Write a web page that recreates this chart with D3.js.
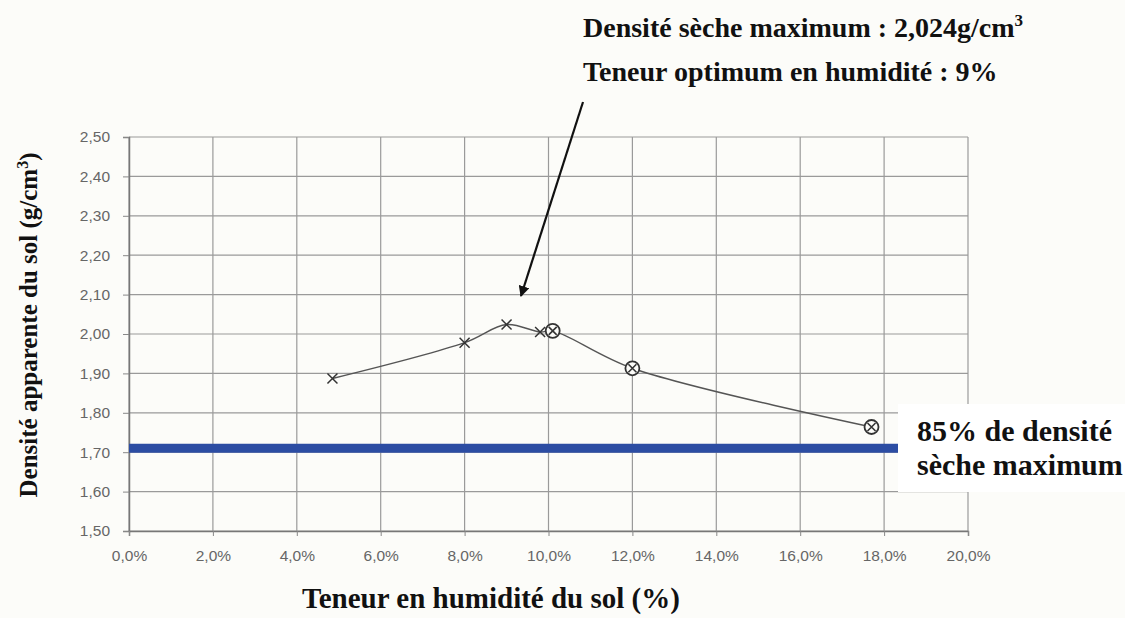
<!DOCTYPE html>
<html>
<head>
<meta charset="utf-8">
<script src="https://cdn.jsdelivr.net/npm/d3@7"></script>
<style>
  body { margin: 0; background: #ffffff; }
  svg { display: block; }
</style>
</head>
<body>
<svg id="chart"></svg>
<script>
// moisture content (%) vs dry density (g/cm3)
var moisture = [4.85, 8.0, 9.0, 9.8, 10.1, 12.0, 17.7];
var density = [1.887, 1.978, 2.024, 2.005, 2.008, 1.913, 1.764];
var markerType = ["cross", "cross", "cross", "cross", "circle", "circle", "circle"];
var limitDensity = 1.71; // 85% of max dry density, as drawn
var xTicks = [0, 2, 4, 6, 8, 10, 12, 14, 16, 18, 20];
var yTicks = [1.5, 1.6, 1.7, 1.8, 1.9, 2.0, 2.1, 2.2, 2.3, 2.4, 2.5];

var width = 1125, height = 618;
var margin = { top: 137, right: 157, bottom: 87, left: 129 };
var serif = "'Liberation Serif', 'Times New Roman', serif";
var sans = "'Liberation Sans', Arial, sans-serif";

var svg = d3.select("#chart").attr("width", width).attr("height", height);

svg.append("rect").attr("width", width).attr("height", height).attr("fill", "#fcfcf9");

var x = d3.scaleLinear().domain([0, 20]).range([margin.left, width - margin.right]);
var y = d3.scaleLinear().domain([1.5, 2.5]).range([height - margin.bottom, margin.top]);

var comma = function (v, digits) { return v.toFixed(digits).replace(".", ","); };

// gridlines
var grid = svg.append("g").attr("stroke", "#9a9a9a").attr("stroke-width", 1.2);
grid.selectAll(".h").data(yTicks).enter().append("line")
  .attr("x1", x(0)).attr("x2", x(20))
  .attr("y1", function (d) { return y(d); }).attr("y2", function (d) { return y(d); });
grid.selectAll(".v").data(xTicks).enter().append("line")
  .attr("y1", y(1.5)).attr("y2", y(2.5))
  .attr("x1", function (d) { return x(d); }).attr("x2", function (d) { return x(d); });

// axes
var yAxis = svg.append("g")
  .attr("transform", "translate(" + x(0) + ",0)")
  .call(d3.axisLeft(y).tickValues(yTicks).tickSize(6).tickPadding(13)
    .tickFormat(function (d) { return comma(d, 2); }));
var xAxis = svg.append("g")
  .attr("transform", "translate(0," + y(1.5) + ")")
  .call(d3.axisBottom(x).tickValues(xTicks).tickSize(5).tickPadding(14)
    .tickFormat(function (d) { return comma(d, 1) + "%"; }));
[xAxis, yAxis].forEach(function (a) {
  a.select(".domain").attr("stroke", "#777").attr("stroke-width", 1.5);
  a.selectAll(".tick line").attr("stroke", "#888");
  a.selectAll(".tick text").attr("fill", "#666")
    .style("font-family", sans).style("font-size", "15.5px");
});

// 85% line
svg.append("line")
  .attr("x1", x(0)).attr("x2", 905)
  .attr("y1", y(limitDensity)).attr("y2", y(limitDensity))
  .attr("stroke", "#2c4da3").attr("stroke-width", 9);

// curve
var pts = moisture.map(function (m, i) { return { m: m, d: density[i], t: markerType[i] }; });
var line = d3.line()
  .x(function (d) { return x(d.m); })
  .y(function (d) { return y(d.d); })
  .curve(d3.curveCatmullRom.alpha(0.5));
svg.append("path").datum(pts)
  .attr("d", line)
  .attr("fill", "none").attr("stroke", "#555").attr("stroke-width", 1.4);

var mk = svg.append("g").selectAll("g").data(pts).enter().append("g")
  .attr("transform", function (d) { return "translate(" + x(d.m) + "," + y(d.d) + ")"; })
  .attr("stroke", "#333").attr("fill", "none");
mk.filter(function (d) { return d.t === "circle"; }).append("circle")
  .attr("r", 7).attr("stroke-width", 1.8).attr("fill", "#fcfcf9");
mk.append("path")
  .attr("d", function (d) {
    var s = d.t === "circle" ? 4 : 5;
    return "M" + -s + "," + -s + "L" + s + "," + s + "M" + -s + "," + s + "L" + s + "," + -s;
  })
  .attr("stroke-width", function (d) { return d.t === "circle" ? 1.6 : 1.5; });

// arrow to the peak
svg.append("defs").append("marker")
  .attr("id", "head").attr("viewBox", "0 0 10 10").attr("refX", 9).attr("refY", 5)
  .attr("markerWidth", 5).attr("markerHeight", 5).attr("orient", "auto")
  .append("path").attr("d", "M0,0L10,5L0,10z").attr("fill", "#111");
svg.append("line")
  .attr("x1", 583).attr("y1", 102).attr("x2", 521).attr("y2", 296)
  .attr("stroke", "#111").attr("stroke-width", 2.2).attr("marker-end", "url(#head)");

// top annotation
var topNote = svg.append("g").style("font-family", serif).style("font-weight", "bold")
  .style("font-size", "28px").attr("fill", "#111");
var t1 = topNote.append("text").attr("x", 583).attr("y", 37);
t1.append("tspan").text("Densité sèche maximum : 2,024g/cm");
t1.append("tspan").attr("dy", -11).style("font-size", "17px").text("3");
topNote.append("text").attr("x", 583).attr("y", 81).text("Teneur optimum en humidité : 9%");

// right annotation
svg.append("rect").attr("x", 898).attr("y", 404).attr("width", 227).attr("height", 88).attr("fill", "#fff");
var rt = svg.append("g").style("font-family", serif).style("font-weight", "bold")
  .style("font-size", "30px").attr("fill", "#111");
rt.append("text").attr("x", 917).attr("y", 441).text("85% de densité");
rt.append("text").attr("x", 917).attr("y", 475).text("sèche maximum");

// x title
svg.append("text")
  .attr("x", 302).attr("y", 608)
  .style("font-family", serif).style("font-weight", "bold").style("font-size", "29px")
  .attr("fill", "#111")
  .text("Teneur en humidité du sol (%)");

// y title
var yt = svg.append("text")
  .attr("transform", "translate(37,325) rotate(-90)")
  .attr("text-anchor", "middle")
  .style("font-family", serif).style("font-weight", "bold").style("font-size", "25px")
  .attr("fill", "#111");
yt.append("tspan").text("Densité apparente du sol (g/cm");
yt.append("tspan").attr("dy", -9).style("font-size", "16px").text("3");
yt.append("tspan").attr("dy", 9).text(")");
</script>
</body>
</html>
